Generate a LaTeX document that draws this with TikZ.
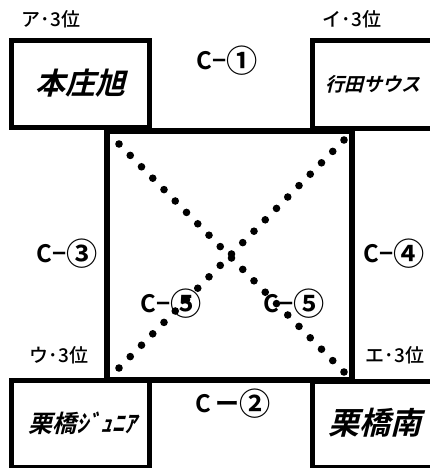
\documentclass[tikz,border=0pt]{standalone}
\usepackage{graphicx}
\usepackage{fontspec}
\setmainfont{Noto Sans CJK JP}
\newfontfamily\jp[UprightFont={* Medium}]{Noto Sans CJK JP}
\newfontfamily\jpb[UprightFont={* Bold}]{Noto Sans CJK JP}
\newfontfamily\jpbi[FakeSlant=0.25,UprightFont={* Bold}]{Noto Sans CJK JP}
\newcommand{\circnum}[1]{\raisebox{-0.12em}{\scalebox{1.3}{#1}}}
\usetikzlibrary{calc}
\tikzset{
  teambox/.style={draw=black, line width=5pt, inner sep=0pt, fill=white},
  court/.style={draw=black, line width=6pt},
  rank/.style={inner sep=0pt, font=\jp\fontsize{19}{19}\selectfont},
  court lbl/.style={inner sep=0pt, font=\jpb\fontsize{24}{24}\selectfont},
  team/.style={inner sep=0pt, font=\jpbi\fontsize{#1}{#1}\selectfont},
  dotc/.style={fill=black}
}
\begin{document}
\begin{tikzpicture}[x=1pt,y=-1pt]
\useasboundingbox (0,0) rectangle (430,468);
\begin{scope}
\clip (0,0) rectangle (430,468);
% team boxes
\node[teambox, minimum width=138pt, minimum height=87pt] (b1) at (80.5,84) {};
\node[teambox, minimum width=125pt, minimum height=87.5pt] (b2) at (375,84.25) {};
\node[teambox, minimum width=138pt, minimum height=87pt] (b3) at (80.5,424) {};
\node[teambox, minimum width=125pt, minimum height=86.5pt] (b4) at (375,424.25) {};
\end{scope}
% court
\node[court, minimum width=245.5pt, minimum height=249pt, inner sep=0pt] (sq) at (229.25,255.5) {};
% diagonals
\coordinate (d1s) at (119,144);
\coordinate (d1e) at (344,372);
\coordinate (d2s) at (119,368);
\coordinate (d2e) at (344,140);
\foreach \k in {0,...,20}{
  \fill[dotc] ($(d1s)!\k/20!(d1e)$) circle (3.8pt);
  \fill[dotc] ($(d2s)!\k/20!(d2e)$) circle (3.8pt);
}
% team names
\node[team=30] (t1) at (80,83) {本庄旭};
\node[team=19] (t2) at (373,84) {行田サウス};
\node[team=24] (t3) at (82,423) {栗橋ｼﾞｭﾆｱ};
\node[team=31] (t4) at (375,423) {栗橋南};
% ranks
\node[rank] (r1) at (51,19) {ア･3位};
\node[rank] (r2) at (352,19) {イ･3位};
\node[rank] (r3) at (59,355) {ウ･3位};
\node[rank] (r4) at (395,355) {エ･3位};
% court labels
\node[court lbl] (c1) at (227,61) {C−\circnum{①}};
\node[court lbl] (c2) at (233,404) {C\,ー\circnum{②}};
\node[court lbl] (c3) at (67,254) {C−\circnum{③}};
\node[court lbl] (c4) at (394,254) {C−\circnum{④}};
\node[court lbl] (c5) at (171,304) {C−\circnum{⑤}};
\node[court lbl] (c6) at (294,304) {C−\circnum{⑤}};
\end{tikzpicture}
\end{document}
